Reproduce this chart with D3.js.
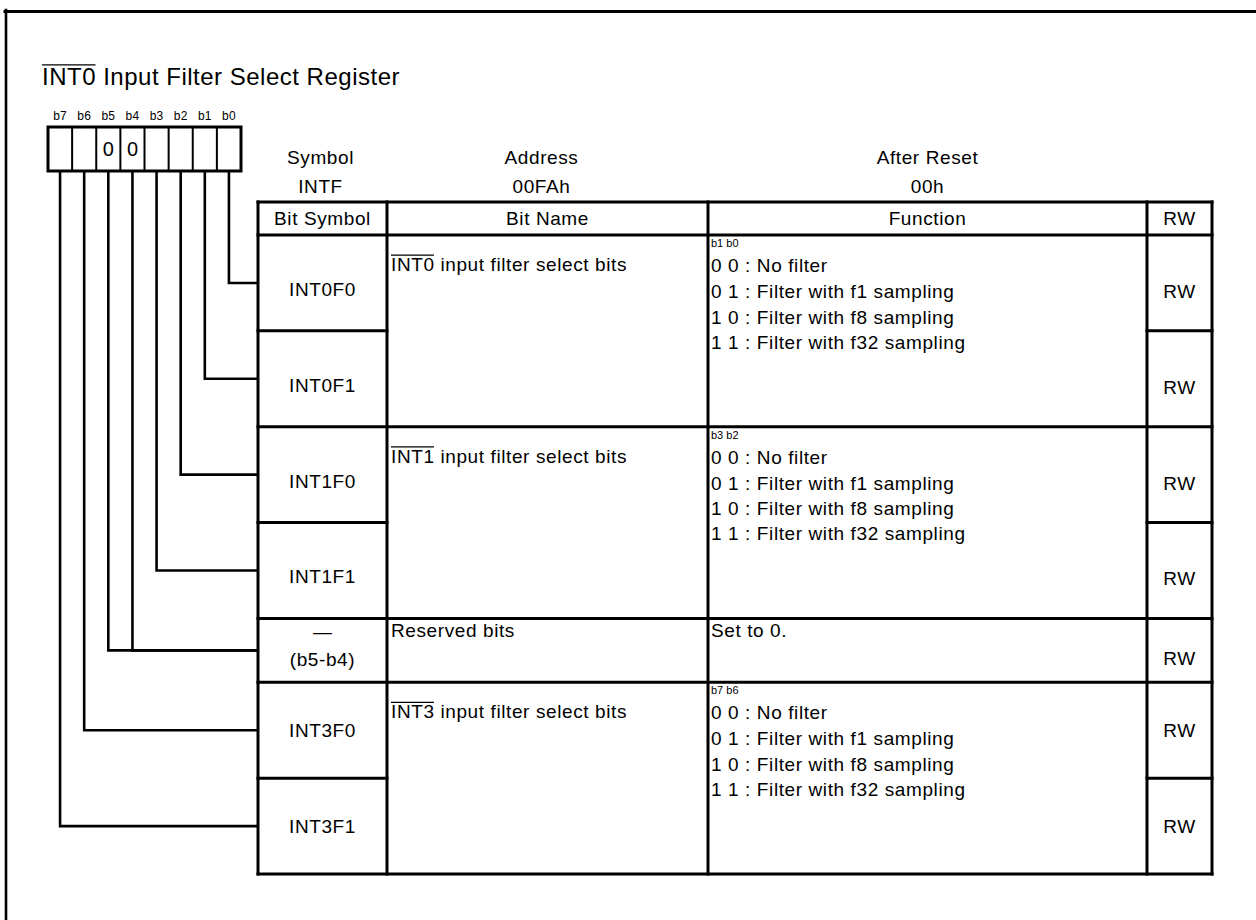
<!DOCTYPE html>
<html><head><meta charset="utf-8">
<script src="https://cdn.jsdelivr.net/npm/d3@7"></script>
<style>
body{margin:0;background:#fff}
text{font-family:"Liberation Sans",Arial,sans-serif;fill:#000}
</style>
</head><body>
<svg id="c" width="1256" height="920"></svg>
<script>
// ---------- data ----------
const titleOver = "INT0";
const titleRest = " Input Filter Select Register";
const bitLabels = ["b7","b6","b5","b4","b3","b2","b1","b0"];
const bitValues = ["","","0","0","","","",""];
const headerLabels = ["Symbol","Address","After Reset"];
const headerValues = ["INTF","00FAh","00h"];
const columnTitles = ["Bit Symbol","Bit Name","Function","RW"];
const bitSymbols = [["INT0F0"],["INT0F1"],["INT1F0"],["INT1F1"],["\u2014","(b5-b4)"],["INT3F0"],["INT3F1"]];
const rowUnits = [3,3,3,3,2,3,3];
const rwValues = ["RW","RW","RW","RW","RW","RW","RW"];
const bitToRow = {b0:0,b1:1,b2:2,b3:3,b4:4,b5:4,b6:5,b7:6};
const groupRows = [[0,1],[2,3],[4,4],[5,6]];
const groupNameOver = ["INT0","INT1","","INT3"];
const groupNameRest = [" input filter select bits"," input filter select bits","Reserved bits"," input filter select bits"];
const groupFuncHead = ["b1 b0","b3 b2","","b7 b6"];
const filterLines = ["0 0 : No filter","0 1 : Filter with f1 sampling","1 0 : Filter with f8 sampling","1 1 : Filter with f32 sampling"];
const groupFuncLines = [filterLines, filterLines, ["Set to 0."], filterLines];

// ---------- layout ----------
const svg = d3.select("#c");
const FS = 19, LS = 0.6;
const colX = [258, 387, 708, 1147, 1212];
const headTop = 202, headBot = 235, tableBot = 874;
const y = d3.scaleLinear().domain([0, d3.sum(rowUnits)]).range([headBot, tableBot]);
const cum = [0]; rowUnits.forEach(u => cum.push(cum[cum.length-1] + u));
const rowTop = i => y(cum[i]), rowBot = i => y(cum[i+1]), rowMid = i => (rowTop(i)+rowBot(i))/2;
const bx = d3.scaleBand().domain(bitLabels).range([48, 241]);
const boxTop = 127, boxBot = 171;
const LW = 2.6;

function line(x1,y1,x2,y2,w){ svg.append("line").attr("x1",x1).attr("y1",y1).attr("x2",x2).attr("y2",y2)
  .attr("stroke","#000").attr("stroke-width",w||LW).attr("stroke-linecap","square"); }
function txt(x,yy,s,size,anchor,ls){ return svg.append("text").attr("x",x).attr("y",yy).attr("font-size",size)
  .attr("text-anchor",anchor||"start").attr("letter-spacing",ls==null?LS:ls).text(s); }
function overText(x,yy,over,rest,size,ls){
  const t = svg.append("text").attr("x",x).attr("y",yy).attr("font-size",size).attr("letter-spacing",ls);
  t.append("tspan").text(over); t.append("tspan").text(rest);
  if (over){
    const n = t.node(); const w = n.getSubStringLength(0, over.length) - ls;
    const oy = yy - size*0.716 - size*0.12;
    svg.append("line").attr("x1",x).attr("x2",x+w).attr("y1",oy).attr("y2",oy).attr("stroke","#000").attr("stroke-width",1.3);
  }
}

// frame
line(6, 10, 6, 920, 2.6);
line(5, 11.5, 1256, 11.5, 3);

// title
overText(42, 85, titleOver, titleRest, 24, 0.5);

// register box
bitLabels.forEach(b => txt(bx(b)+bx.bandwidth()/2, 120, b, 12, "middle", 0.2));
svg.append("rect").attr("x",bx.range()[0]).attr("y",boxTop).attr("width",bx.range()[1]-bx.range()[0]).attr("height",boxBot-boxTop)
  .attr("fill","none").attr("stroke","#000").attr("stroke-width",3);
bitLabels.slice(1).forEach(b => line(bx(b), boxTop, bx(b), boxBot, 2));
bitValues.forEach((v,i) => { if (v) txt(bx(bitLabels[i])+bx.bandwidth()/2, 156, v, 20, "middle", 0); });

// connecting lines
bitLabels.forEach(b => {
  const cx = bx(b) + bx.bandwidth()/2, cy = rowMid(bitToRow[b]);
  svg.append("path").attr("d", `M${cx},${boxBot} V${cy} H${colX[0]}`)
    .attr("fill","none").attr("stroke","#000").attr("stroke-width",LW);
});

// header info
const headCols = [(colX[0]+colX[1])/2-2, (colX[1]+colX[2])/2-6, (colX[2]+colX[3])/2];
headerLabels.forEach((s,i) => txt(headCols[i], 164, s, FS, "middle"));
headerValues.forEach((s,i) => txt(headCols[i], 193, s, FS, "middle"));

// table grid
line(colX[0], headTop, colX[4], headTop, 3);
line(colX[0], headBot, colX[4], headBot, 3);
colX.forEach(x => line(x, headTop, x, tableBot, 3));
for (let i = 0; i < rowUnits.length; i++) {
  const yb = rowBot(i);
  const inGroup = groupRows.some(g => g[0] === i && g[1] !== i);
  if (inGroup) { line(colX[0], yb, colX[1], yb, 3); line(colX[3], yb, colX[4], yb, 3); }
  else line(colX[0], yb, colX[4], yb, 3);
}

// column titles
columnTitles.forEach((s,i) => txt((colX[i]+colX[i+1])/2, 225, s, FS, "middle"));

// bit symbols & RW
bitSymbols.forEach((arr,i) => {
  const mid = rowMid(i);
  if (arr.length === 1) txt((colX[0]+colX[1])/2, mid + (i>=5 ? 7 : 13), arr[0], FS, "middle");
  else { txt((colX[0]+colX[1])/2, mid - 12, arr[0], FS, "middle", 0); txt((colX[0]+colX[1])/2, mid + 16, arr[1], FS, "middle"); }
});
rwValues.forEach((s,i) => txt((colX[3]+colX[4])/2, rowMid(i) + (i>=5 ? 7 : 15), s, FS, "middle"));

// bit names & functions
groupRows.forEach((g,gi) => {
  const top = rowTop(g[0]);
  const hasHead = !!groupFuncHead[gi];
  overText(colX[1]+4, top + (hasHead ? 36 : 19), groupNameOver[gi], groupNameRest[gi], FS, LS);
  if (hasHead) txt(colX[2]+3, top + 12, groupFuncHead[gi], 11, "start", 0);
  const offs = hasHead ? [37, 63, 88.5, 113.5] : [19];
  groupFuncLines[gi].forEach((s,k) => txt(colX[2]+3, top + offs[k], s, FS, "start"));
});
</script>
</body></html>
